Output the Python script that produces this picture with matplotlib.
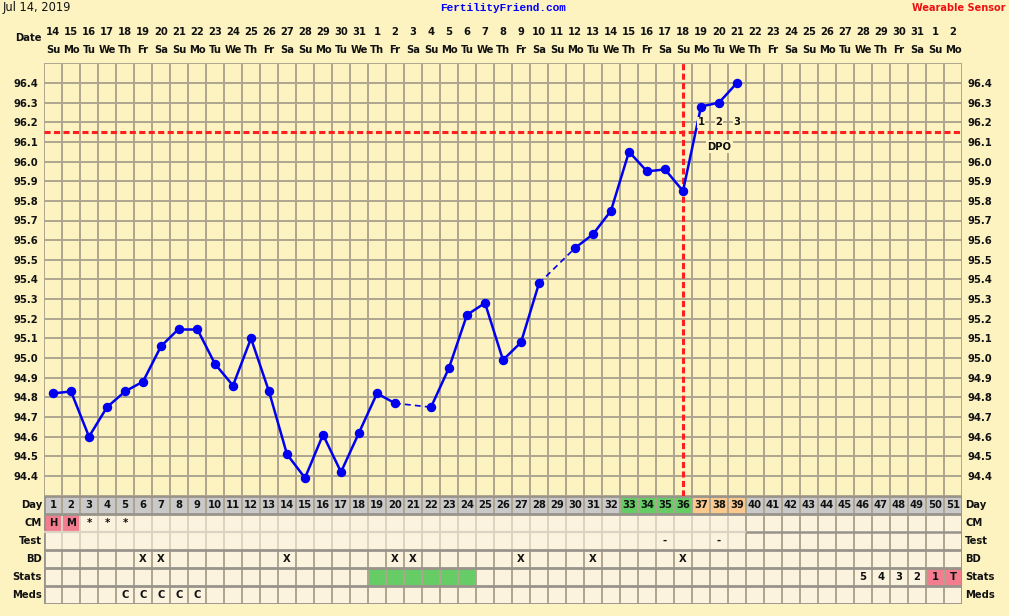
import matplotlib
matplotlib.use("Agg")
import matplotlib.pyplot as plt
from matplotlib.patches import Rectangle
from matplotlib.transforms import blended_transform_factory

W, H = 1009, 616

# ---- chart data -------------------------------------------------------
cycle_days = list(range(1, 52))
dates = [14, 15, 16, 17, 18, 19, 20, 21, 22, 23, 24, 25, 26, 27, 28, 29, 30, 31,
         1, 2, 3, 4, 5, 6, 7, 8, 9, 10, 11, 12, 13, 14, 15, 16, 17, 18, 19, 20,
         21, 22, 23, 24, 25, 26, 27, 28, 29, 30, 31, 1, 2]
weekdays = ["Su", "Mo", "Tu", "We", "Th", "Fr", "Sa",
            "Su", "Mo", "Tu", "We", "Th", "Fr", "Sa",
            "Su", "Mo", "Tu", "We", "Th", "Fr", "Sa",
            "Su", "Mo", "Tu", "We", "Th", "Fr", "Sa",
            "Su", "Mo", "Tu", "We", "Th", "Fr", "Sa",
            "Su", "Mo", "Tu", "We", "Th", "Fr", "Sa",
            "Su", "Mo", "Tu", "We", "Th", "Fr", "Sa",
            "Su", "Mo"]

# temperatures for cycle days 1..39 (None = not recorded)
temps = [94.82, 94.83, 94.60, 94.75, 94.83, 94.88, 95.06, 95.15, 95.15, 94.97,
         94.86, 95.10, 94.83, 94.51, 94.39, 94.61, 94.42, 94.62, 94.82, 94.77,
         None, 94.75, 94.95, 95.22, 95.28, 94.99, 95.08, 95.38, None, 95.56,
         95.63, 95.75, 96.05, 95.95, 95.96, 95.85, 96.28, 96.30, 96.40]

temp_ticks = [round(94.4 + 0.1 * i, 1) for i in range(21)]
coverline = 96.15
ovulation_day = 36
dpo_days = [37, 38, 39]
dpo_labels = ["1", "2", "3"]

row_names = ["Day", "CM", "Test", "BD", "Stats", "Meds"]
fertile_days = [33, 34, 35, 36]
cm_days = [1, 2, 3, 4, 5]
cm_marks = ["H", "M", "*", "*", "*"]
cm_pink_days = [1, 2]
test_days = [35, 38]
test_marks = ["-", "-"]
bd_days = [6, 7, 14, 20, 21, 27, 31, 36]
stats_green_days = [19, 20, 21, 22, 23, 24]
stats_days = [46, 47, 48, 49, 50, 51]
stats_marks = ["5", "4", "3", "2", "1", "T"]
stats_pink_days = [50, 51]
meds_days = [5, 6, 7, 8, 9]
meds_marks = ["C", "C", "C", "C", "C"]

# ---- colours ----------------------------------------------------------
BG = "#fdf3c1"
CREAM = "#fbf3de"
GRID = "#ada58f"
GRID_DARK = "#99948b"
GRID_LIGHT = "#dcd3c3"
GRAY = "#c9c9c9"
GREEN = "#66cc66"
ORANGE = "#fbc98e"
PINK = "#f27d8f"
BLUE = "#0000f0"
RED = "#ff1f1f"
TXT = "#111111"

FS = 7.2

fig = plt.figure(figsize=(W / 100, H / 100), dpi=100, facecolor=BG)

x0, x1 = 44, 962
t_top, t_bot = 63.3, 495.6
tab_bot = 603.6


def fx(px):
    return px / W


def fy(py):
    return 1 - py / H


# ---- temperature panel -------------------------------------------------
ax = fig.add_axes([fx(x0), fy(t_bot), fx(x1 - x0), (t_bot - t_top) / H])
ax.set_facecolor(BG)
ax.set_xlim(0.5, 51.5)
ax.set_ylim(94.3, 96.5)
for s in ax.spines.values():
    s.set_visible(False)

vx = [d - 0.5 for d in cycle_days] + [51.5]
ax.vlines(vx, 94.3, 96.5, colors=GRID, lw=1.4, zorder=1)
hy = [94.3 + 0.1 * i for i in range(23)]
ax.hlines(hy, 0.5, 51.5, colors=GRID, lw=1.4, zorder=1)

ax.set_xticks([])
ax.set_yticks(temp_ticks)
ax.set_yticklabels([f"{t:.1f}" for t in temp_ticks])
ax.tick_params(axis="y", length=0, pad=4, labelsize=FS, labelleft=True,
               labelright=True, labelcolor=TXT)
for lab in ax.get_yticklabels():
    lab.set_fontweight("bold")

# red cover line and ovulation marker
ax.axhline(coverline, color=RED, lw=2.2, dashes=(2, 1.1), zorder=3)
ax.axvline(ovulation_day, color=RED, lw=2.2, dashes=(2, 1.1), zorder=3)

# temperature curve: solid between consecutive readings, dashed over gaps
pts = [(d, t) for d, t in zip(cycle_days, temps) if t is not None]
for (da, ta), (db, tb) in zip(pts[:-1], pts[1:]):
    if db - da == 1:
        ax.plot([da, db], [ta, tb], color=BLUE, lw=1.8, zorder=4,
                solid_capstyle="round")
    else:
        ax.plot([da, db], [ta, tb], color=BLUE, lw=1.2, dashes=(3.5, 2.5),
                zorder=4)
ax.plot([p[0] for p in pts], [p[1] for p in pts], "o", color=BLUE, ms=5.8,
        zorder=5)

for d, s in zip(dpo_days, dpo_labels):
    ax.text(d, 96.2, s, ha="center", va="center", fontsize=FS,
            fontweight="bold", color=TXT, zorder=6,
            bbox=dict(boxstyle="square,pad=0.05", fc=BG, ec="none"))
ax.text(38, 96.075, "DPO", ha="center", va="center", fontsize=FS,
        fontweight="bold", color=TXT, zorder=6,
        bbox=dict(boxstyle="square,pad=0.15", fc=BG, ec="none"))

# date header
tr = blended_transform_factory(ax.transData, fig.transFigure)
for d, dt, wd in zip(cycle_days, dates, weekdays):
    ax.text(d, fy(32), str(dt), transform=tr, ha="center", va="center",
            fontsize=FS, fontweight="bold", color=TXT)
    ax.text(d, fy(50), wd, transform=tr, ha="center", va="center",
            fontsize=FS, fontweight="bold", color=TXT)
fig.text(fx(42), fy(38), "Date", ha="right", va="center", fontsize=FS,
         fontweight="bold", color=TXT)

fig.text(fx(3), fy(8), "Jul 14, 2019", ha="left", va="center", fontsize=8.3,
         color=TXT)
fig.text(fx(503), fy(8), "FertilityFriend.com", ha="center", va="center",
         fontsize=8, fontweight="bold", color="#0000ff",
         family="Liberation Mono")
fig.text(fx(1005), fy(8), "Wearable Sensor", ha="right", va="center",
         fontsize=7.0, fontweight="bold", color="#ee1111")

# ---- chart table -------------------------------------------------------
tax = fig.add_axes([fx(x0), fy(tab_bot), fx(x1 - x0), (tab_bot - t_bot) / H])
tax.set_xlim(0.5, 51.5)
tax.set_ylim(len(row_names), 0)
tax.axis("off")


def cell(day, row, color):
    tax.add_patch(Rectangle((day - 0.5, row), 1, 1, fc=color, ec="none",
                            zorder=1))


def mark(day, row, s):
    tax.text(day, row + 0.52, s, ha="center", va="center", fontsize=FS,
             fontweight="bold", color=TXT, zorder=4)


for r in range(len(row_names)):
    for d in cycle_days:
        cell(d, r, CREAM)

for d in cycle_days:
    if d in fertile_days:
        c = GREEN
    elif d in dpo_days:
        c = ORANGE
    else:
        c = GRAY
    cell(d, 0, c)
    mark(d, 0, str(d))

for d, s in zip(cm_days, cm_marks):
    if d in cm_pink_days:
        cell(d, 1, PINK)
    mark(d, 1, s)
for d, s in zip(test_days, test_marks):
    mark(d, 2, s)
for d in bd_days:
    mark(d, 3, "X")
for d in stats_green_days:
    cell(d, 4, GREEN)
for d, s in zip(stats_days, stats_marks):
    if d in stats_pink_days:
        cell(d, 4, PINK)
    mark(d, 4, s)
for d, s in zip(meds_days, meds_marks):
    mark(d, 5, s)

# table grid
last_temp_day = len(temps)
for r in range(len(row_names)):
    for xv in vx:
        light = r in (1, 2) and 0.5 < xv < last_temp_day + 0.5
        tax.vlines(xv, r, r + 1, colors=GRID_LIGHT if light else GRID,
                   lw=1.4, zorder=2)
tax.vlines(0.5, 0, len(row_names), colors=GRID_DARK, lw=2.0, zorder=3)
tax.vlines(51.5, 0, len(row_names), colors=GRID_DARK, lw=2.0, zorder=3)
for yv in range(len(row_names) + 1):
    if yv == 2:
        tax.hlines(yv, 0.5, last_temp_day + 0.5, colors=GRID_LIGHT, lw=1.6,
                   zorder=3)
        tax.hlines(yv, last_temp_day + 0.5, 51.5, colors=GRID_DARK, lw=1.8,
                   zorder=3)
    else:
        tax.hlines(yv, 0.5, 51.5, colors=GRID_DARK, lw=2.0, zorder=3)

# row labels on both sides
for r, name in enumerate(row_names):
    yy = fy(t_bot + 18 * r + 9.5)
    fig.text(fx(42), yy, name, ha="right", va="center", fontsize=FS,
             fontweight="bold", color=TXT)
    fig.text(fx(965), yy, name, ha="left", va="center", fontsize=FS,
             fontweight="bold", color=TXT)

fig.savefig("out.png", dpi=100, facecolor=BG)
